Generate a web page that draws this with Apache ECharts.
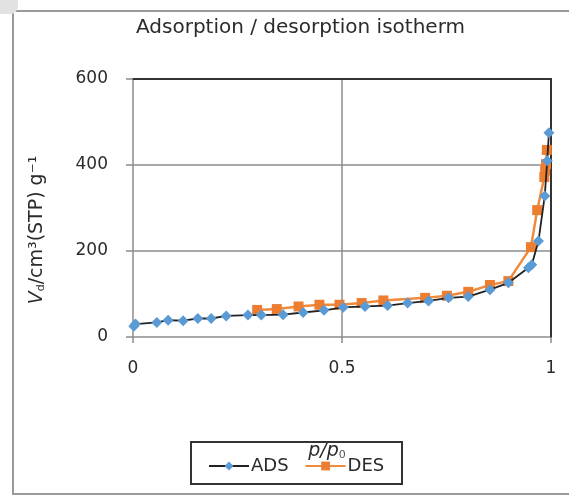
<!DOCTYPE html>
<html><head><meta charset="utf-8">
<script src="https://cdn.jsdelivr.net/npm/echarts@6/dist/echarts.min.js"></script>
<style>html,body{margin:0;padding:0;background:#fff}#c{width:569px;height:496px}</style>
</head><body><div id="c"></div>
<script>
const titleText = "Adsorption / desorption isotherm";
const seriesNames = ["ADS", "DES"];
const xTicks = [0, 0.5, 1];
const yTicks = [0, 200, 400, 600];
const adsX = [0.002,0.006,0.057,0.084,0.12,0.155,0.187,0.223,0.275,0.307,0.359,0.407,0.457,0.503,0.555,0.609,0.657,0.707,0.755,0.802,0.854,0.898,0.946,0.954,0.97,0.985,0.991,0.995];
const adsY = [25,30,34,39,38,43,43,49,51,51,52,57,62,69,71,73,79,84,91,94,110,126,161,168,223,328,410,475];
const desX = [0.99,0.988,0.986,0.984,0.967,0.952,0.898,0.854,0.802,0.751,0.699,0.599,0.547,0.494,0.446,0.396,0.344,0.297];
const desY = [435,402,387,372,295,209,130,121,105,96,91,85,79,75,75,71,65,63];

const ads = adsX.map((x,i)=>[x,adsY[i]]);
const des = desX.map((x,i)=>[x,desY[i]]);
const font = "'DejaVu Sans', sans-serif";
const txt = '#2b2b2b';
const chart = echarts.init(document.getElementById('c'));
chart.setOption({
  animation:false,
  backgroundColor:'#fff',
  textStyle:{fontFamily:font},
  title:{text:titleText,left:131,top:13,textStyle:{fontSize:20,fontWeight:'normal',color:txt,fontFamily:font}},
  graphic:[
    {type:'rect',shape:{x:13,y:11,width:570,height:483},style:{fill:'none',stroke:'#9a9a9a',lineWidth:2}},
    {type:'rect',shape:{x:0,y:0,width:18,height:14,r:[0,0,8,0]},style:{fill:'#e2e2e2'}},
    {type:'rect',shape:{x:191,y:442,width:211,height:42},style:{fill:'none',stroke:'#333',lineWidth:2},z:100}
  ],
  legend:{
    data:seriesNames,
    left:208, top:457, itemWidth:40, itemHeight:11, itemGap:16,
    textStyle:{fontSize:18,color:txt,fontFamily:font,padding:[0,0,0,-3]},
    padding:0
  },
  grid:{left:133,right:18,top:79,bottom:159},
  xAxis:[{
    type:'value',position:'bottom',min:xTicks[0],max:xTicks[2],interval:0.5,
    axisLine:{show:false},
    axisTick:{show:true,length:6,lineStyle:{color:'#8c8c8c',width:1.5}},
    axisLabel:{fontSize:17,color:txt,margin:23,formatter:v=>String(v)},
    splitLine:{show:true,lineStyle:{color:'#8c8c8c',width:1.5}},
    name:'{i|p/p}{s|0}',nameLocation:'middle',nameGap:104,
    nameTextStyle:{padding:[0,30,0,0],rich:{i:{fontStyle:'italic',fontSize:19,color:txt,fontFamily:font},s:{fontSize:11,color:'#555',padding:[9,0,0,0],fontFamily:font}}}
  },{
    type:'value',position:'top',min:0,max:1,
    axisLine:{show:true,onZero:false,lineStyle:{color:'#333',width:2}},
    axisTick:{show:false},axisLabel:{show:false},splitLine:{show:false}
  }],
  yAxis:[{
    type:'value',position:'left',min:yTicks[0],max:yTicks[3],interval:200,
    axisLine:{show:false},
    axisTick:{show:true,length:7,lineStyle:{color:'#8c8c8c',width:1.5}},
    axisLabel:{fontSize:17,color:txt,margin:25},
    splitLine:{show:true,lineStyle:{color:'#8c8c8c',width:1.5}},
    name:'{i|V}{s|d}{n|/cm³(STP) g⁻¹}',nameLocation:'middle',nameRotate:90,nameGap:86,
    nameTextStyle:{padding:[0,44,0,0],rich:{i:{fontStyle:'italic',fontSize:19,color:txt,fontFamily:font},s:{fontSize:11,color:txt,fontFamily:font,padding:[9,0,0,0]},n:{fontSize:19,color:txt,fontFamily:font}}}
  },{
    type:'value',position:'right',min:0,max:600,
    axisLine:{show:true,onZero:false,lineStyle:{color:'#333',width:2}},
    axisTick:{show:false},axisLabel:{show:false},splitLine:{show:false}
  }],
  series:[
    {name:seriesNames[0],type:'line',data:ads,symbol:'diamond',symbolSize:11,
     itemStyle:{color:'#5b9bd5'},lineStyle:{color:'#222',width:1.8},z:3},
    {name:seriesNames[1],type:'line',data:des,symbol:'rect',symbolSize:10,
     itemStyle:{color:'#ed7d31'},lineStyle:{color:'#f08a3c',width:2.5},z:2}
  ]
});
</script></body></html>
